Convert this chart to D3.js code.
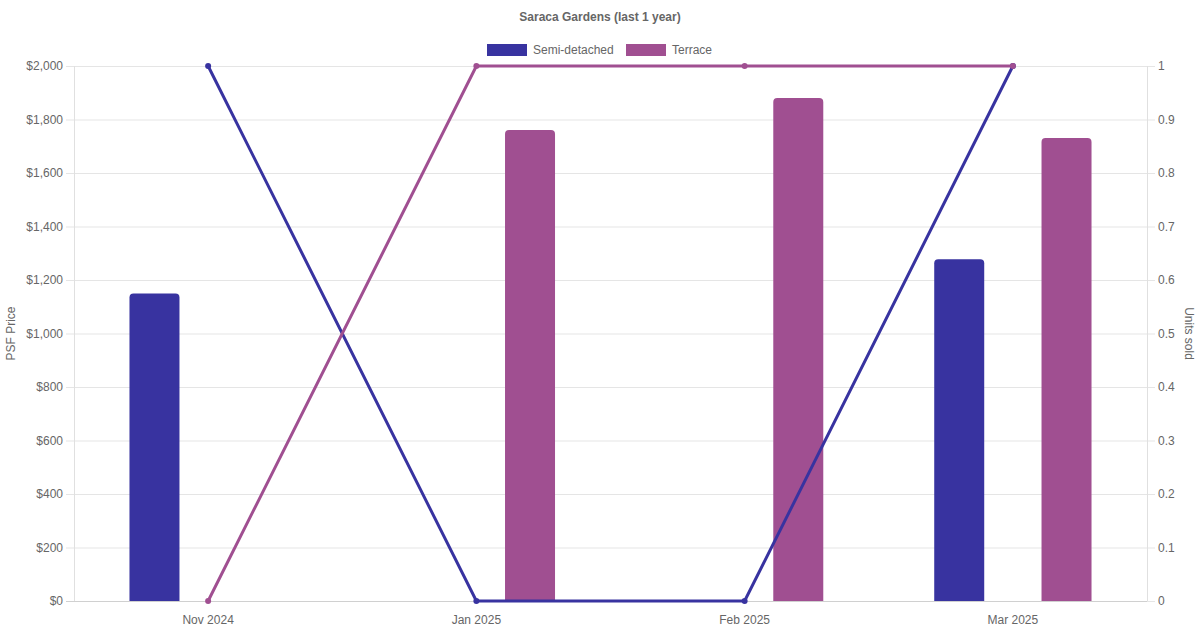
<!DOCTYPE html>
<html><head><meta charset="utf-8">
<script src="https://cdn.jsdelivr.net/npm/d3@7"></script>
<style>body{margin:0;background:#fff}svg{display:block;font-family:"Liberation Sans",Arial,Helvetica,sans-serif}</style>
</head><body><svg id="c" width="1200" height="630"></svg>
<script>
const categories = ["Nov 2024","Jan 2025","Feb 2025","Mar 2025"];
const seriesNames = ["Semi-detached","Terrace"];
const semiPsf = [1150, null, null, 1278];
const terracePsf = [null, 1761, 1880, 1731];
const semiUnits = [1, 0, 0, 1];
const terraceUnits = [0, 1, 1, 1];
const psfTicks = [0,200,400,600,800,1000,1200,1400,1600,1800,2000];
const unitTicks = [0,0.1,0.2,0.3,0.4,0.5,0.6,0.7,0.8,0.9,1];
const colors = ["#3833a0","#a04f91"];

const svg = d3.select("#c");
const L=74,R=1147,T=66,B=601;
const x = d3.scaleBand().domain(categories).range([L,R]);
const bw = x.bandwidth();
const xs = d3.scaleBand().domain(seriesNames).range([0.1*bw,0.9*bw]);
const yL = d3.scaleLinear().domain([0,2000]).range([B,T]);
const yR = d3.scaleLinear().domain([0,1]).range([B,T]);
const grey="#666";

// grid
svg.append("g").selectAll("line").data(psfTicks).join("line")
  .attr("x1",L-8).attr("x2",R).attr("y1",d=>yL(d)+0.5).attr("y2",d=>yL(d)+0.5)
  .attr("stroke",d=>d===0?"#d0d0d0":"#e5e5e5");
svg.append("g").selectAll("line").data(unitTicks).join("line")
  .attr("x1",R).attr("x2",R+8).attr("y1",d=>yR(d)+0.5).attr("y2",d=>yR(d)+0.5).attr("stroke","#e5e5e5");
svg.append("line").attr("x1",L+0.5).attr("x2",L+0.5).attr("y1",T).attr("y2",B).attr("stroke","#e0e0e0");
svg.append("line").attr("x1",R+0.5).attr("x2",R+0.5).attr("y1",T).attr("y2",B).attr("stroke","#e0e0e0");

// tick labels
svg.append("g").selectAll("text").data(psfTicks).join("text")
  .attr("x",L-11).attr("y",d=>yL(d)).attr("dy","0.35em").attr("text-anchor","end")
  .attr("font-size",12).attr("fill",grey).text(d=>"$"+d3.format(",")(d));
svg.append("g").selectAll("text").data(unitTicks).join("text")
  .attr("x",R+11).attr("y",d=>yR(d)).attr("dy","0.35em").attr("text-anchor","start")
  .attr("font-size",12).attr("fill",grey).text(d=>d3.format("")(d));
svg.append("g").selectAll("text").data(categories).join("text")
  .attr("x",d=>x(d)+bw/2).attr("y",620).attr("dy","0.35em").attr("text-anchor","middle")
  .attr("font-size",12).attr("fill",grey).text(d=>d);

// axis titles
svg.append("text").attr("transform",`translate(15,${(T+B)/2}) rotate(-90)`).attr("text-anchor","middle")
  .attr("font-size",12).attr("fill",grey).text("PSF Price");
svg.append("text").attr("transform",`translate(1185,${(T+B)/2}) rotate(90)`).attr("text-anchor","middle")
  .attr("font-size",12).attr("fill",grey).text("Units sold");

// title
svg.append("text").attr("x",600).attr("y",17).attr("dy","0.35em").attr("text-anchor","middle")
  .attr("font-size",12).attr("font-weight","bold").attr("fill",grey).text("Saraca Gardens (last 1 year)");

// legend
const legend=[{name:seriesNames[0],x:487},{name:seriesNames[1],x:626}];
legend.forEach((l,i)=>{
  svg.append("rect").attr("x",l.x).attr("y",44).attr("width",40).attr("height",12).attr("fill",colors[i]);
  svg.append("text").attr("x",l.x+46).attr("y",50).attr("dy","0.35em").attr("font-size",12).attr("fill",grey).text(l.name);
});

// bars
const barW=50, rad=4;
function barPath(cx,v){
  const x0=cx-barW/2,x1=cx+barW/2,y0=yL(v),y1=yL(0);
  return `M${x0},${y1}V${y0+rad}Q${x0},${y0} ${x0+rad},${y0}H${x1-rad}Q${x1},${y0} ${x1},${y0+rad}V${y1}Z`;
}
[semiPsf,terracePsf].forEach((arr,si)=>{
  svg.append("g").selectAll("path").data(categories.map((c,i)=>({c,v:arr[i]})).filter(d=>d.v!=null)).join("path")
    .attr("d",d=>barPath(x(d.c)+xs(seriesNames[si])+xs.bandwidth()/2,d.v)).attr("fill",colors[si]);
});

// lines
[semiUnits,terraceUnits].forEach((arr,si)=>{
  const pts=categories.map((c,i)=>[x(c)+bw/2,yR(arr[i])]);
  svg.append("path").attr("d",d3.line()(pts)).attr("fill","none").attr("stroke",colors[si]).attr("stroke-width",3);
  svg.append("g").selectAll("circle").data(pts).join("circle")
    .attr("cx",d=>d[0]).attr("cy",d=>d[1]).attr("r",3).attr("fill",colors[si]);
});
</script></body></html>
